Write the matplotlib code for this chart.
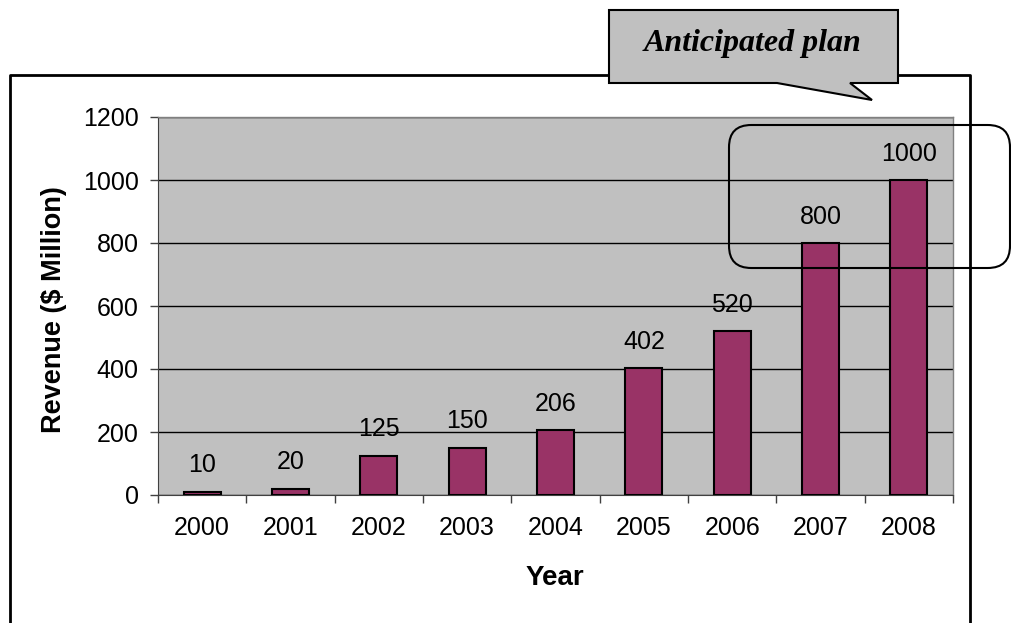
import matplotlib.pyplot as plt
import numpy as np
from matplotlib.patches import FancyBboxPatch, Polygon
from matplotlib.lines import Line2D

years = ["2000", "2001", "2002", "2003", "2004", "2005", "2006", "2007", "2008"]
revenue = [10, 20, 125, 150, 206, 402, 520, 800, 1000]

W, H = 1012, 623
plt.rcParams['font.family'] = ['Liberation Sans', 'DejaVu Sans']

fig = plt.figure(figsize=(W / 100, H / 100), dpi=100)

def px(x, y):
    # pixel position (from top-left) -> figure fraction
    return x / W, 1 - y / H

ax = fig.add_axes([158 / W, 1 - 495 / H, (953 - 158) / W, (495 - 117) / H])
ax.set_facecolor("#c0c0c0")

x = np.arange(len(years))
ax.bar(x, revenue, width=0.42, color="#993366", edgecolor="black", linewidth=1.5, zorder=3)
for xi, v in zip(x, revenue):
    ax.annotate(str(v), (xi, v), xytext=(0, 14), textcoords="offset points",
                ha="center", va="baseline", fontsize=18)

ax.set_xlim(-0.5, len(years) - 0.5)
ax.set_ylim(0, 1200)
ax.set_yticks(np.arange(0, 1201, 200))
ax.yaxis.grid(True, color="black", linewidth=1.0, zorder=1)
ax.set_axisbelow(True)

ax.set_xticks(x)
ax.set_xticklabels(years)
ax.set_xticks(np.arange(-0.5, len(years), 1.0), minor=True)
ax.tick_params(axis="x", which="major", length=0, pad=15, labelsize=18)
ax.tick_params(axis="x", which="minor", length=6, width=1, color="#404040")
ax.tick_params(axis="y", length=6, width=1, pad=8, labelsize=18, color="#404040")

for s in ["top", "right"]:
    ax.spines[s].set_color("#808080")
    ax.spines[s].set_linewidth(1)
ax.spines["left"].set_color("#404040")
ax.spines["bottom"].set_color("#404040")

fig.text(*px(54, 310), "Revenue ($ Million)", rotation=90, ha="center", va="center",
         fontsize=19.5, fontweight="bold")
fig.text(*px(555, 578), "Year", ha="center", va="center", fontsize=20, fontweight="bold")

# outer frame (bottom edge runs off the page)
frame = [px(10, 640), px(10, 75), px(970, 75), px(970, 640)]
fig.add_artist(Line2D([p[0] for p in frame], [p[1] for p in frame],
                      color="black", linewidth=2, transform=fig.transFigure, zorder=5))

# rounded box around the planned years
x0, y0 = px(729, 268)
x1, y1 = px(1010, 125)
fig.add_artist(FancyBboxPatch((x0, y0), x1 - x0, y1 - y0,
                              boxstyle="round,pad=0,rounding_size=0.022",
                              transform=fig.transFigure, facecolor="none",
                              edgecolor="black", linewidth=1.5, zorder=6,
                              mutation_aspect=W / H))

# speech-bubble callout
bubble = [px(609, 10), px(898, 10), px(898, 83), px(850, 83), px(872, 100),
          px(777, 83), px(609, 83)]
fig.add_artist(Polygon(bubble, closed=True, facecolor="#c0c0c0", edgecolor="black",
                       linewidth=1.5, transform=fig.transFigure, zorder=7))
fig.text(*px(753, 43), "Anticipated plan", ha="center", va="center", fontsize=23,
         fontweight="bold", fontstyle="italic", family="Liberation Serif", zorder=8)

fig.savefig("out.png", dpi=100)
